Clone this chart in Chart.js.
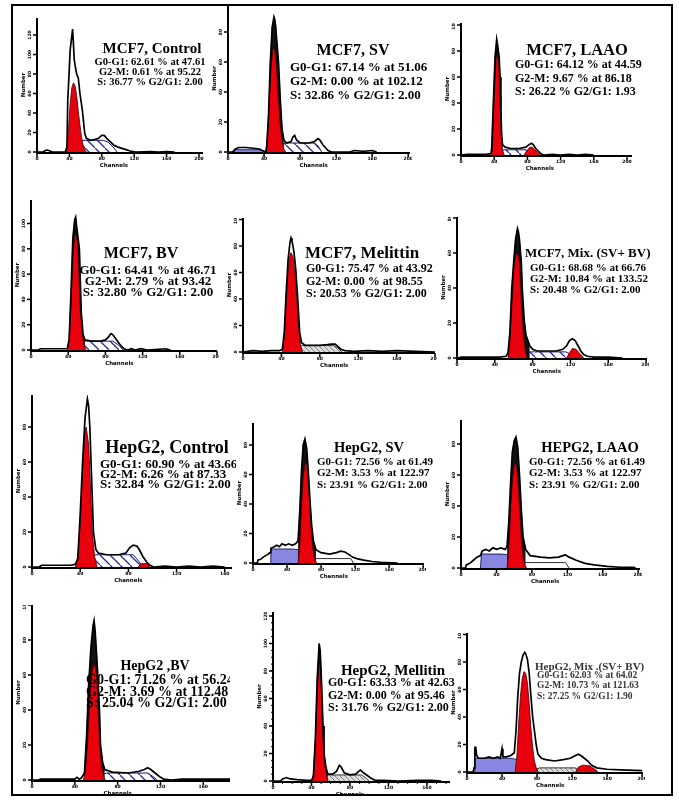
<!DOCTYPE html>
<html><head><meta charset="utf-8">
<script src="https://cdn.jsdelivr.net/npm/chart.js@4.4.0/dist/chart.umd.min.js"></script>
<style>
html,body{margin:0;padding:0;background:#fff;width:679px;height:802px;overflow:hidden;}
#frame{position:absolute;left:11px;top:4px;width:658px;height:788px;border:2px solid #000;}
.pc{position:absolute;}
.txt{position:absolute;font-family:"Liberation Serif","Times New Roman",serif;font-weight:bold;color:#000;white-space:nowrap;line-height:1;}
.clip{position:absolute;left:0;top:0;height:802px;overflow:hidden;}
</style></head><body>
<div id="frame"></div>
<div id="root"></div>
<script>
// ---------------- DATA (channel, count) ----------------
const TITLES = ["MCF7, Control","MCF7, SV","MCF7, LAAO","MCF7, BV","MCF7, Melittin","MCF7, Mix. (SV+ BV)",
  "HepG2, Control","HepG2, SV","HEPG2, LAAO","HepG2 ,BV","HepG2, Mellitin","HepG2, Mix .(SV+ BV)"];
const G1_TEXT = ["G0-G1: 62.61 % at 47.61","G0-G1: 67.14 % at 51.06","G0-G1: 64.12 % at 44.59","G0-G1: 64.41 % at 46.71",
  "G0-G1: 75.47 % at 43.92","G0-G1: 68.68 % at 66.76","G0-G1: 60.90 % at 43.66","G0-G1: 72.56 % at 61.49",
  "G0-G1: 72.56 % at 61.49","G0-G1: 71.26 % at 56.24","G0-G1: 63.33 % at 42.63","G0-G1: 62.03 % at 64.02"];
const G2_TEXT = ["G2-M: 0.61 % at 95.22","G2-M: 0.00 % at 102.12","G2-M: 9.67 % at 86.18","G2-M: 2.79 % at 93.42",
  "G2-M: 0.00 % at 98.55","G2-M: 10.84 % at 133.52","G2-M: 6.26 % at 87.33","G2-M: 3.53 % at 122.97",
  "G2-M: 3.53 % at 122.97","G2-M: 3.69 % at 112.48","G2-M: 0.00 % at 95.46","G2-M: 10.73 % at 121.63"];
const S_TEXT = ["S: 36.77 % G2/G1: 2.00","S: 32.86 % G2/G1: 2.00","S: 26.22 % G2/G1: 1.93","S: 32.80 % G2/G1: 2.00",
  "S: 20.53 % G2/G1: 2.00","S: 20.48 % G2/G1: 2.00","S: 32.84 % G2/G1: 2.00","S: 23.91 % G2/G1: 2.00",
  "S: 23.91 % G2/G1: 2.00","S: 25.04 % G2/G1: 2.00","S: 31.76 % G2/G1: 2.00","S: 27.25 % G2/G1: 1.90"];

const X_TICKS_200 = [0,40,80,120,160,200];
const X_TICKS_160 = [0,40,80,120,160];
const Y_TICKS = [0,20,40,60,80,100,120];
const X_TITLE = "Channels";
const Y_TITLE = "Number";

// 1 MCF7 Control
const MCF7_CTRL_HIST = [[0,0],[8,0],[10,1.5],[13,2],[16,1],[19,0],[35,0],[37,5],[38,53],[41,105],[44,126],[46,95],[47,89],[49,80],[51,76],[53,60],[56,43],[59,19],[61,14],[66,12],[72,13],[76,14],[80,17],[83,17],[86,14],[90,11],[95,7],[100,5],[108,3],[115,1],[122,0],[140,0.5],[150,0],[160,0.5],[170,0]];
const MCF7_CTRL_G1 = [[35,0],[37,5],[39,25],[41,50],[43,66],[45,71],[47,68],[49,58],[51,42],[53,28],[55,15],[57,7],[59,2],[61,0]];
const MCF7_CTRL_S = [[44,0],[47,6],[51,10],[55,12],[82,12],[88,10],[94,5],[99,0]];
// 2 MCF7 SV
const MCF7_SV_HIST = [[0,0],[5,0],[8,2],[12,3],[20,3],[28,2.5],[35,2],[38,1],[42,0],[43,4],[45,25],[47,60],[49,83],[51,90],[52,88],[53,83],[54,75],[56,60],[58,35],[60,15],[62,8],[65,6],[70,7],[72,10],[74,11],[76,8],[80,6],[90,6],[96,7],[100,9],[102,8],[105,5],[108,3],[111,1],[115,0],[135,0],[140,1],[150,0.5],[160,1],[165,0]];
const MCF7_SV_G1 = [[42,0],[44,10],[46,35],[48,58],[50,69],[52,68],[54,55],[56,35],[58,18],[60,7],[62,2],[64,0]];
const MCF7_SV_S = [[55,0],[58,4],[62,6],[96,6],[100,4],[104,0]];
const MCF7_SV_DEBRIS = [[7,0],[8,1.5],[35,1.5],[40,0.5],[42,0]];
// 3 MCF7 LAAO
const MCF7_LAAO_HIST = [[0,0],[8,0.5],[20,0.5],[30,0.5],[36,1],[37,5],[39,40],[41,75],[43,89],[44,85],[45,80],[46,75],[47,60],[48,35],[49,15],[50,8],[53,6],[60,5],[70,5],[78,6],[82,8],[85,9],[87,8],[90,5],[93,3],[96,1],[100,0],[110,0.5],[120,0],[130,0.5],[140,0],[150,0.5],[160,0]];
const MCF7_LAAO_G1 = [[37,0],[38,8],[40,45],[42,72],[43,77],[45,75],[46,65],[47,45],[48,25],[49,10],[50,4],[52,0]];
const MCF7_LAAO_G2 = [[76,0],[79,3],[83,6],[86,6],[89,4],[92,2],[95,0]];
const MCF7_LAAO_S = [[47,0],[51,4],[78,4],[83,2],[86,0]];
// 4 MCF7 BV
const MCF7_BV_HIST = [[0,0],[8,0],[10,1],[20,1],[35,1],[39,1],[41,8],[43,45],[45,88],[47,103],[48,105],[49,98],[50,92],[52,80],[53,55],[54,30],[56,12],[58,8],[65,7],[75,7],[80,8],[83,10],[86,13],[88,12],[91,9],[94,6],[97,3],[100,1],[104,0],[108,1],[112,0],[118,1],[125,0],[145,1],[150,0]];
const MCF7_BV_G1 = [[39,0],[41,8],[43,35],[45,72],[47,90],[48,92],[50,85],[51,70],[52,50],[53,32],[55,14],[57,4],[59,0]];
const MCF7_BV_S = [[48,0],[52,6],[57,7],[88,7],[94,4],[99,0]];
// 5 MCF7 Melittin
const MCF7_MEL_HIST = [[0,0],[10,1],[20,0.5],[30,1],[38,1],[41,2],[43,15],[45,45],[47,70],[49,83],[50,86],[51,84],[53,76],[55,62],[57,40],[59,15],[61,7],[65,5],[80,5],[88,5.5],[92,6],[96,6],[99,4],[102,2],[106,1],[115,0.5],[130,1],[145,0.5],[160,1],[180,0.5],[200,0]];
const MCF7_MEL_G1 = [[41,0],[43,12],[45,38],[47,62],[49,74],[50,75],[52,72],[54,60],[56,40],[58,18],[60,5],[62,0]];
const MCF7_MEL_S = [[54,0],[58,4],[62,5],[94,5],[99,3],[103,0]];
// 6 MCF7 Mix
const MCF7_MIX_HIST = [[0,0],[5,0.5],[15,0.5],[30,0.5],[45,0.5],[52,1],[54,3],[56,15],[58,40],[60,55],[62,68],[64,74],[65,72],[66,68],[68,55],[69,40],[71,22],[73,13],[75,10],[77,7],[80,5],[85,4],[95,4],[105,4],[112,5],[116,7],[119,10],[122,11],[125,10],[128,7],[131,4],[134,2],[138,1],[145,0.5],[160,0.5],[175,0]];
const MCF7_MIX_G1 = [[54,0],[56,10],[58,30],[60,50],[62,59],[64,60],[66,55],[67,45],[68,32],[70,15],[72,5],[74,0]];
const MCF7_MIX_G2 = [[116,0],[119,3],[122,5.5],[126,5],[130,2.5],[134,0]];
const MCF7_MIX_S = [[66,0],[70,2],[75,3.5],[115,3.5],[121,2],[124,0]];
// 7 HepG2 Control
const HEP_CTRL_HIST = [[0,0],[6,0],[8,1],[20,1],[32,1],[36,1.5],[38,5],[40,30],[42,60],[44,85],[46,96],[47,92],[48,80],[49,60],[50,40],[51,20],[53,10],[55,8],[62,7],[72,7],[78,8],[81,11],[84,12.5],[87,12],[89,10],[92,6],[95,3],[98,1],[101,0],[110,0.5],[120,0],[130,0.5],[140,0],[150,0.5],[160,0]];
const HEP_CTRL_G1 = [[36,0],[38,5],[40,25],[42,55],[44,78],[45,80],[47,70],[48,55],[49,38],[50,20],[52,6],[54,0]];
const HEP_CTRL_G2 = [[88,0],[91,2],[95,2],[98,0]];
const HEP_CTRL_S = [[45,0],[49,6],[53,7],[84,7],[89,3],[92,0]];
// 8 HepG2 SV
const HEP_SV_HIST = [[0,0],[5,0],[6,2],[9,2.5],[12,4],[15,5],[18,6],[20,7],[21,10],[25,11],[28,12],[31,11],[34,13],[38,12],[42,13],[46,12],[50,13],[53,15],[55,35],[57,62],[59,80],[61,84],[63,78],[65,62],[67,42],[69,25],[71,15],[74,9],[80,7],[90,6],[98,7],[103,8],[108,7.5],[112,6],[117,4],[122,3],[130,2],[140,1],[150,0.5],[170,0]];
const HEP_SV_G1 = [[53,0],[55,12],[57,38],[59,58],[61,67],[63,68],[65,55],[67,35],[69,18],[71,7],[73,2],[75,0]];
const HEP_SV_S = [[68,0],[72,3],[115,3],[118,0]];
const HEP_SV_DEBRIS = [[20,0],[21,9.5],[45,9.5],[55,9],[60,7.5],[65,5],[70,3],[76,1],[80,0]];
// 9 HepG2 LAAO
const HEP_LAAO_HIST = [[0,0],[5,0],[6,2],[10,3],[14,5],[18,7],[22,8],[24,11],[28,12],[32,11],[36,13],[40,12],[45,13],[50,12],[52,14],[54,30],[56,55],[58,75],[60,82],[62,84.5],[64,78],[66,60],[68,38],[70,20],[73,12],[78,8],[90,7],[100,6.5],[110,7],[115,8],[118,8.4],[122,7],[130,5],[140,3],[150,2],[165,1],[180,0.5],[195,0.5],[197,0]];
const HEP_LAAO_G1 = [[52,0],[54,12],[56,38],[58,56],[60,66],[62,68],[64,58],[66,40],[68,20],[70,7],[72,2],[74,0]];
const HEP_LAAO_S = [[68,0],[72,3.5],[118,3.5],[122,0]];
const HEP_LAAO_DEBRIS = [[22,0],[23,9],[45,9],[54,8.5],[60,7],[66,4.5],[72,2],[78,0.5],[80,0]];
// 10 HepG2 BV
const HEP_BV_HIST = [[0,0],[6,0],[8,0.5],[30,0.5],[40,0.5],[42,1.5],[44,0.5],[46,1],[49,4],[51,25],[53,55],[55,75],[57,88],[58,91],[59,85],[60,75],[61,65],[63,40],[64,20],[66,10],[68,6],[75,4.5],[90,4],[100,5],[105,6],[108,7],[111,6],[115,4],[119,2],[123,0.5],[130,0],[140,0.5],[155,0.5],[170,0.5],[185,0.5]];
const HEP_BV_G1 = [[48,0],[50,5],[52,22],[54,45],[56,62],[58,67],[60,62],[61,52],[62,38],[63,22],[65,8],[67,2],[68,0]];
const HEP_BV_S = [[62,0],[65,3],[70,4],[108,4],[113,2],[117,0]];
// 11 HepG2 Mellitin
const HEP_MEL_HIST = [[0,0],[8,0],[10,1.5],[14,2.5],[18,1.5],[25,1],[35,0.5],[40,0.5],[42,3],[44,30],[46,75],[48,100],[49,95],[50,80],[51,60],[52,40],[53,20],[55,10],[57,5],[62,5],[66,7],[69,11.5],[71,10],[74,6],[80,4.5],[86,5],[89,7],[91,8],[94,6],[98,4],[102,2],[106,0.5],[115,0.5],[130,0],[150,0.5],[165,0.5],[175,0]];
const HEP_MEL_G1 = [[40,0],[42,5],[44,30],[46,65],[48,86],[49,84],[50,70],[51,50],[52,32],[54,12],[56,3],[57,0]];
const HEP_MEL_S = [[48,0],[52,4],[56,4.4],[92,4.4],[97,2],[100,0]];
// 12 HepG2 Mix
const HEP_MIX_HIST = [[0,0],[7,0],[8,3],[9,18],[10,18],[11,12],[13,10],[16,10],[20,10],[25,11],[30,10],[35,11],[38,10],[40,17],[41,11],[45,11],[50,12],[54,14],[56,30],[58,55],[60,72],[62,80],[64,85],[66,87],[67,86],[69,82],[71,72],[73,55],[75,40],[77,30],[79,20],[81,13],[85,10],[90,9],[100,8],[110,9],[118,10],[124,12],[127,13],[130,12],[134,10],[138,8],[142,5],[148,3],[160,2],[175,1.5],[200,1]];
const HEP_MIX_G1 = [[55,0],[57,12],[59,35],[61,55],[63,68],[65,73],[67,72],[69,65],[71,50],[73,32],[75,18],[77,8],[79,3],[81,0]];
const HEP_MIX_G2 = [[124,0],[127,3.5],[132,5],[140,4.5],[146,2],[150,0]];
const HEP_MIX_S = [[78,0],[82,3],[124,3],[128,0]];
const HEP_MIX_DEBRIS = [[8,0],[9,10],[50,10],[57,9],[65,7],[72,5],[80,2.5],[88,0.5],[90,0]];

const PANEL_DATA = [
  {hist:MCF7_CTRL_HIST, g1:MCF7_CTRL_G1, s:MCF7_CTRL_S},
  {hist:MCF7_SV_HIST, g1:MCF7_SV_G1, s:MCF7_SV_S, debris:MCF7_SV_DEBRIS},
  {hist:MCF7_LAAO_HIST, g1:MCF7_LAAO_G1, g2:MCF7_LAAO_G2, s:MCF7_LAAO_S},
  {hist:MCF7_BV_HIST, g1:MCF7_BV_G1, s:MCF7_BV_S},
  {hist:MCF7_MEL_HIST, g1:MCF7_MEL_G1, s:MCF7_MEL_S},
  {hist:MCF7_MIX_HIST, g1:MCF7_MIX_G1, g2:MCF7_MIX_G2, s:MCF7_MIX_S},
  {hist:HEP_CTRL_HIST, g1:HEP_CTRL_G1, g2:HEP_CTRL_G2, s:HEP_CTRL_S},
  {hist:HEP_SV_HIST, g1:HEP_SV_G1, s:HEP_SV_S, debris:HEP_SV_DEBRIS},
  {hist:HEP_LAAO_HIST, g1:HEP_LAAO_G1, s:HEP_LAAO_S, debris:HEP_LAAO_DEBRIS},
  {hist:HEP_BV_HIST, g1:HEP_BV_G1, s:HEP_BV_S},
  {hist:HEP_MEL_HIST, g1:HEP_MEL_G1, s:HEP_MEL_S},
  {hist:HEP_MIX_HIST, g1:HEP_MIX_G1, g2:HEP_MIX_G2, s:HEP_MIX_S, debris:HEP_MIX_DEBRIS}
];

// ---------------- LAYOUT / STYLE (pixels) ----------------
const LAYOUT = [
  {x0:37,  ppc:0.81,  xMax:205, yBase:152, yTop:18,  tickPx:19.5, xt:X_TICKS_200, hatch:'blue'},
  {x0:228, ppc:0.90,  xMax:202, yBase:152, yTop:5,   tickPx:30,   xt:X_TICKS_200, hatch:'blue', black:[43,62]},
  {x0:461, ppc:0.83,  xMax:206, yBase:155, yTop:23,  tickPx:26,   xt:X_TICKS_200, hatch:'blue', black:[37,50]},
  {x0:31,  ppc:0.93,  xMax:200, yBase:350, yTop:200, tickPx:25.3, xt:X_TICKS_200, hatch:'blue', black:[41,58]},
  {x0:243, ppc:0.96,  xMax:200, yBase:352, yTop:218, tickPx:26.5, xt:X_TICKS_200, hatch:'grey'},
  {x0:457, ppc:0.945, xMax:201, yBase:358, yTop:217, tickPx:35,   xt:X_TICKS_200, hatch:'blue', black:[54,77]},
  {x0:32,  ppc:1.206, xMax:166, yBase:567, yTop:395, tickPx:35,   xt:X_TICKS_160, hatch:'blue'},
  {x0:253, ppc:0.85,  xMax:201, yBase:563, yTop:423, tickPx:29.5, xt:X_TICKS_200, hatch:'white', black:[53,74]},
  {x0:461, ppc:0.885, xMax:202, yBase:568, yTop:420, tickPx:31,   xt:X_TICKS_200, hatch:'white', black:[52,73]},
  {x0:32,  ppc:1.069, xMax:185, yBase:780, yTop:605, tickPx:35,   xt:X_TICKS_160, hatch:'blue', black:[49,68]},
  {x0:273, ppc:0.9625,xMax:184, yBase:781, yTop:612, tickPx:27.5, xt:X_TICKS_160, hatch:'grey', minor:true, black:[42,57]},
  {x0:467, ppc:0.875, xMax:201, yBase:772, yTop:633, tickPx:27.5, xt:X_TICKS_200, hatch:'grey'}
];
const TEXT_POS = [
  {t:{cx:152,cy:48,fs:15}, l:{cx:150,ys:[62,72,82],fs:10.5}},
  {t:{cx:353,cy:50,fs:16}, l:{left:290,ys:[66,80,94],fs:13}},
  {t:{cx:577,cy:50,fs:16.5}, l:{left:515,ys:[64,78,91],fs:12}},
  {t:{cx:141,cy:253,fs:16}, l:{cx:148,ys:[269,280,291],fs:13}},
  {t:{cx:362,cy:252,fs:17}, l:{left:306,ys:[268,281,293],fs:12}},
  {t:{left:525,cy:252,fs:13}, l:{left:530,ys:[267,278,289],fs:11}},
  {t:{cx:167,cy:447,fs:18}, l:{left:100,ys:[463,473,483],fs:13}, clip:236},
  {t:{cx:369,cy:447,fs:14.5}, l:{left:317,ys:[461,472,484],fs:11}},
  {t:{cx:590,cy:447,fs:14.5}, l:{left:529,ys:[461,472,484],fs:11}},
  {t:{cx:155,cy:666,fs:14}, l:{left:86,ys:[680,692,703],fs:14}, clip:230},
  {t:{cx:393,cy:670,fs:15}, l:{left:328,ys:[682,695,707],fs:12}},
  {t:{left:535,cy:666,fs:11}, l:{left:537,ys:[676,686,697],fs:9.5}, color:'#333'}
];

const RED = '#e8000c';
function makePattern(kind){
  const s = kind==='grey' ? 5 : 10;
  const c = document.createElement('canvas'); c.width=s; c.height=s;
  const g = c.getContext('2d');
  g.fillStyle = kind==='grey' ? '#dcdcdc' : '#ffffff';
  g.fillRect(0,0,s,s);
  if(kind!=='white'){
    g.strokeStyle = kind==='grey' ? '#707070' : '#2a2a9a';
    g.lineWidth = kind==='grey' ? 0.8 : 1.3;
    g.beginPath(); g.moveTo(-1,-1); g.lineTo(s+1,s+1); g.stroke();
  }
  return g.createPattern(c,'repeat');
}

const axisPlugin = {
  id:'axes',
  afterDatasetsDraw(chart, args, opts){
    const L = opts.L; if(!L) return;
    const {ctx, chartArea:a, scales:{x,y}} = chart;
    ctx.save();
    ctx.strokeStyle='#000'; ctx.fillStyle='#000';
    ctx.lineWidth=2;
    ctx.beginPath(); ctx.moveTo(a.left, a.top); ctx.lineTo(a.left, a.bottom+1); ctx.lineTo(a.right, a.bottom+1); ctx.stroke();
    ctx.lineWidth=1.5;
    ctx.font='bold 4.5px "DejaVu Sans"'; ctx.textAlign='center'; ctx.textBaseline='top';
    L.xt.forEach(v=>{
      const px = x.getPixelForValue(v);
      ctx.beginPath(); ctx.moveTo(px,a.bottom+1); ctx.lineTo(px,a.bottom+5); ctx.stroke();
      ctx.fillText(String(v), px, a.bottom+5);
    });
    if(L.minor){
      ctx.lineWidth=1;
      for(let v=10; v<L.xMax; v+=10){ const px=x.getPixelForValue(v); ctx.beginPath(); ctx.moveTo(px,a.bottom+1); ctx.lineTo(px,a.bottom+3); ctx.stroke(); }
      for(let v=5; v<y.max; v+=5){ const py=y.getPixelForValue(v); ctx.beginPath(); ctx.moveTo(a.left,py); ctx.lineTo(a.left-2,py); ctx.stroke(); }
      ctx.lineWidth=1.5;
    }
    Y_TICKS.forEach(v=>{
      if(v>y.max) return;
      const py = y.getPixelForValue(v);
      ctx.beginPath(); ctx.moveTo(a.left,py); ctx.lineTo(a.left-4,py); ctx.stroke();
      ctx.save(); ctx.translate(a.left-7, py); ctx.rotate(-Math.PI/2);
      ctx.textBaseline='middle'; ctx.fillText(String(v),0,0); ctx.restore();
    });
    ctx.font='bold 5.5px "DejaVu Sans"';
    ctx.fillText(X_TITLE, x.getPixelForValue(L.xt.length===6?95:80), a.bottom+11);
    ctx.save(); ctx.translate(a.left-13, (a.top+a.bottom)/2); ctx.rotate(-Math.PI/2);
    ctx.textBaseline='middle'; ctx.fillText(Y_TITLE,0,0); ctx.restore();
    ctx.restore();
  }
};

function toPts(arr){ return arr.map(p=>({x:p[0], y:p[1]})); }
function ds(arr, o){ return Object.assign({data:toPts(arr), pointRadius:0, tension:0, fill:'origin', borderWidth:1}, o); }

const root = document.getElementById('root');
const YW=22, XH=22, RP=2;
LAYOUT.forEach((L,i)=>{
  const d = PANEL_DATA[i];
  const areaW = Math.round(L.xMax*L.ppc);
  const areaH = L.yBase - L.yTop;
  const W = YW + areaW + RP, H = areaH + XH;
  const yMax = areaH / L.tickPx * 20;
  const box = document.createElement('div'); box.className='pc';
  box.style.left=(L.x0-YW)+'px'; box.style.top=L.yTop+'px'; box.style.width=W+'px'; box.style.height=H+'px';
  const cv = document.createElement('canvas'); cv.width=W; cv.height=H; cv.style.width=W+'px'; cv.style.height=H+'px';
  box.appendChild(cv); root.appendChild(box);
  const sets = [];
  sets.push(ds(d.hist, {borderColor:'#000', borderWidth:1.7, fill:false}));
  sets.push(ds(d.g1, {backgroundColor:RED, borderColor:'#400000', borderWidth:0.8}));
  if(d.g2) sets.push(ds(d.g2, {backgroundColor:RED, borderColor:'#400000', borderWidth:0.8}));
  if(L.black) sets.push(ds(d.hist.filter(p=>p[0]>=L.black[0] && p[0]<=L.black[1]), {backgroundColor:'#111', borderColor:'#111', borderWidth:0.5}));
  sets.push(ds(d.s, {backgroundColor:makePattern(L.hatch), borderColor:L.hatch==='blue'?'#1a1a70':'#333', borderWidth:1}));
  if(d.debris) sets.push(ds(d.debris, {backgroundColor:'#8787e2', borderColor:'#22226e', borderWidth:1}));
  new Chart(cv, {
    type:'line',
    data:{datasets:sets},
    options:{
      responsive:false, animation:false, events:[],
      layout:{padding:{left:YW, right:RP, top:0, bottom:XH}},
      scales:{
        x:{type:'linear', min:0, max:L.xMax, display:false},
        y:{type:'linear', min:0, max:yMax, display:false}
      },
      plugins:{legend:{display:false}, tooltip:{enabled:false}, axes:{L:L}}
    },
    plugins:[axisPlugin]
  });
});

function addText(parent, str, pos, fs, color){
  const el = document.createElement('div'); el.className='txt'; el.textContent=str;
  el.style.fontSize=fs+'px'; el.style.top=(pos.cy - fs/2)+'px';
  if(color) el.style.color=color;
  if(pos.cx!==undefined){ el.style.left=(pos.cx-200)+'px'; el.style.width='400px'; el.style.textAlign='center'; }
  else el.style.left=pos.left+'px';
  parent.appendChild(el);
}
TEXT_POS.forEach((T,i)=>{
  let parent = root;
  if(T.clip){ const c=document.createElement('div'); c.className='clip'; c.style.width=T.clip+'px'; root.appendChild(c); parent=c; }
  addText(parent, TITLES[i], T.t, T.t.fs, T.color);
  const lines=[G1_TEXT[i], G2_TEXT[i], S_TEXT[i]];
  lines.forEach((s,k)=>{
    const p = T.l.cx!==undefined ? {cx:T.l.cx, cy:T.l.ys[k]} : {left:T.l.left, cy:T.l.ys[k]};
    addText(parent, s, p, T.l.fs, T.color);
  });
});
</script>
</body></html>
